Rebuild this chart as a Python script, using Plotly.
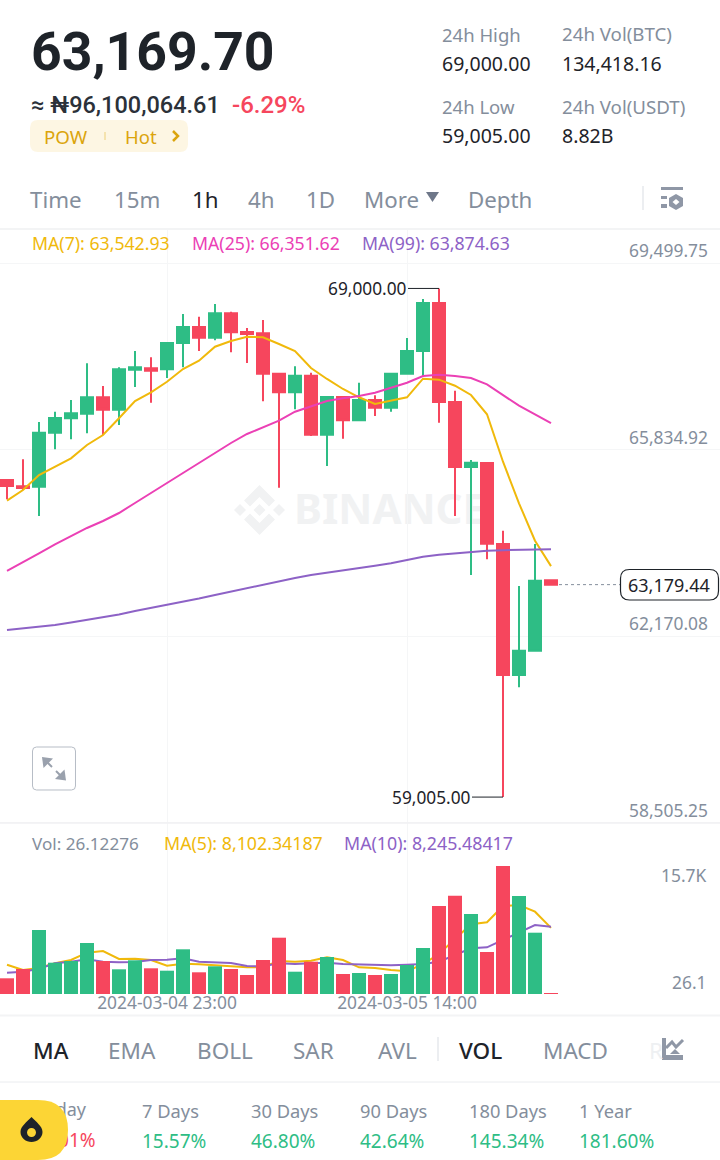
import re
import pandas as pd
import plotly.graph_objects as go

W = 720
H = 1160
FONT = "Noto Sans"

GREEN = "#2EBD85"
RED = "#F6465D"
YELLOW = "#F0B90B"
PINK = "#EB40B5"
PURPLE = "#8D62C6"
DARK = "#1E2329"
GREY = "#848E9C"
LINE = "#EFF0F2"

# candles, one per hour
times = pd.date_range("2024-03-04 13:00", periods=35, freq="h")
opens = [65236, 65112, 65104, 66165, 66448, 66539, 66861, 66617, 67403, 67431, 67411, 67928,
         68242, 68032, 68512, 68144, 68119, 67325, 66959, 67285, 66126, 66867, 66409, 66808,
         66657, 67325, 67771, 68714, 66769, 65491, 65570, 63978, 61404, 61882, 63265]
highs = [65256, 65643, 66376, 66578, 66808, 67529, 67083, 67451, 67771, 67647, 67928, 68498,
         68445, 68694, 68543, 68223, 68380, 67325, 67470, 67344, 66887, 66887, 67148, 66900,
         67325, 68026, 68793, 69000, 66991, 65629, 65570, 64240, 63153, 63978, 63265]
lows = [64857, 65039, 64529, 65839, 66036, 66154, 66120, 66317, 67063, 66755, 67240, 67451,
        67771, 67981, 67745, 67535, 66782, 65085, 66625, 66101, 65511, 66047, 66409, 66494,
        66578, 67305, 67266, 66362, 64529, 63369, 63678, 59005, 61162, 61862, 63159]
closes = [65118, 65079, 66165, 66454, 66547, 66861, 66617, 67411, 67451, 67384, 67928, 68242,
          68032, 68512, 68138, 68105, 67325, 66959, 67285, 66126, 66867, 66409, 66808, 66657,
          67325, 67771, 68714, 66769, 65491, 65576, 63984, 61404, 61882, 63257, 63179.44]

ma7 = [64829, 65039, 65334, 65497, 65662, 65924, 66120, 66448, 66788, 66959, 67167, 67417,
       67580, 67855, 67967, 68052, 68040, 67908, 67771, 67437, 67221, 67024, 66861, 66729,
       66788, 66861, 67226, 67207, 67089, 66906, 66527, 65595, 64778, 64043, 63542.93]
ma25 = [63448, 63615, 63792, 63969, 64136, 64293, 64430, 64587, 64784, 64980, 65177, 65373,
        65570, 65772, 65963, 66140, 66277, 66401, 66578, 66690, 66788, 66841, 66887, 66951,
        67044, 67148, 67280, 67305, 67280, 67240, 67116, 66906, 66696, 66527, 66351.62]
ma99 = [62288, 62318, 62347, 62387, 62436, 62485, 62534, 62593, 62662, 62721, 62780, 62839,
        62907, 62976, 63045, 63114, 63183, 63251, 63310, 63369, 63418, 63467, 63507, 63552,
        63599, 63664, 63729, 63768, 63796, 63821, 63847, 63857, 63860, 63868, 63874.63]

volumes = [1925, 3065, 7846, 3837, 4046, 6253, 4046, 3028, 4132, 3151, 2857, 5480,
           2660, 3396, 3065, 2329, 4168, 6902, 2734, 3960, 4536, 2452, 2575, 2329,
           2452, 3555, 5640, 10789, 12052, 9808, 5149, 15693, 12015, 7515, 26.12]
vol_ma5 = [3592, 2942, 3188, 3764, 4168, 5063, 5272, 4291, 4328, 4168, 3470, 3715,
           3641, 3519, 3470, 3273, 3310, 4046, 3960, 4083, 4499, 4168, 3273, 3188,
           2942, 2783, 3678, 4904, 6743, 8545, 8790, 10789, 10911, 10090, 8102.34]
vol_ma10 = [2611, 2734, 3102, 3764, 3960, 4254, 3960, 3886, 3923, 4168, 4205, 4377,
            3960, 3923, 3801, 3433, 3396, 3764, 3678, 3764, 3837, 3678, 3641, 3555,
            3519, 3592, 3678, 3960, 4781, 5603, 5725, 6620, 7564, 8459, 8245.48]

price_ticks = [69499.75, 65834.92, 62170.08, 58505.25]
time_ticks = ["2024-03-04 23:00", "2024-03-05 14:00"]
last_price = 63179.44

periods = ["Today", "7 Days", "30 Days", "90 Days", "180 Days", "1 Year"]
period_changes = ["-6.01%", "15.57%", "46.80%", "42.64%", "145.34%", "181.60%"]


def px(x, y):
    return x / W, 1 - y / H


def svg(path):
    # path is written in screen pixels, shapes want paper coordinates
    nums = iter(re.findall(r"[A-Z]|[-\d.]+", path))
    out = []
    for tok in nums:
        if tok.isalpha():
            out.append(tok)
        else:
            x, y = px(float(tok), float(next(nums)))
            out.append(f"{x:.5f},{y:.5f}")
    return " ".join(out)


def round_rect(x0, y0, x1, y1, r):
    return svg(f"M {x0 + r} {y0} L {x1 - r} {y0} Q {x1} {y0} {x1} {y0 + r} L {x1} {y1 - r} "
               f"Q {x1} {y1} {x1 - r} {y1} L {x0 + r} {y1} Q {x0} {y1} {x0} {y1 - r} "
               f"L {x0} {y0 + r} Q {x0} {y0} {x0 + r} {y0} Z")


shapes = []
annotations = []


def text(s, x, y, size, color=GREY, anchor="left", weight=400, font=FONT):
    # glyphs start about a pixel in from the anchor
    ax, ay = px(x - 1, y)
    annotations.append(dict(text=s, x=ax, y=ay, xref="paper", yref="paper", xanchor=anchor,
                            yanchor="middle", showarrow=False, borderpad=0,
                            font=dict(family=font, size=size, color=color, weight=weight)))


def path(d, fill, line=None, width=0, layer="above"):
    shapes.append(dict(type="path", path=d, xref="paper", yref="paper", fillcolor=fill,
                       line=dict(color=line or fill, width=width), layer=layer))


def seg(x0, y0, x1, y1, color=LINE, width=1):
    a, b = px(x0, y0)
    c, d = px(x1, y1)
    shapes.append(dict(type="line", x0=a, y0=b, x1=c, y1=d, xref="paper", yref="paper",
                       line=dict(color=color, width=width), layer="above"))


def under_text(s, x, y, size, color, weight=400):
    # text in a shape label, so it sits below the traces and other shapes
    a, b = px(x, y - 15)
    c, d = px(x + 260, y + 15)
    shapes.append(dict(type="rect", x0=a, y0=b, x1=c, y1=d, xref="paper", yref="paper",
                       fillcolor="rgba(0,0,0,0)", line=dict(width=0), layer="below",
                       label=dict(text=s, textposition="middle left", padding=0,
                                  font=dict(family=FONT, size=size, color=color, weight=weight))))


# header
text("63,169.70", 31, 51, 53.5, DARK, weight=700, font="Roboto")
text("≈ ₦96,100,064.61", 31, 105, 23.5, "#2B3139", weight=500, font="Roboto")
text("-6.29%", 232, 105, 24, RED, weight=500, font="Roboto")
path(round_rect(30, 120, 188, 152, 8), "#FDF6E3")
text("POW", 44, 136, 18.7, "#DBA40C")
seg(105, 132, 105, 140, "#F5E3AE", 2)
text("Hot", 125, 136, 18.5, "#DBA40C")
path(svg("M 173 131 L 178 136 L 173 141"), "rgba(0,0,0,0)", "#DBA40C", 2.5)

text("24h High", 442, 35, 18.5)
text("69,000.00", 442, 63, 19.5, DARK)
text("24h Vol(BTC)", 562, 33, 18.7)
text("134,418.16", 562, 63, 19.5, DARK)
text("24h Low", 442, 107, 18.5)
text("59,005.00", 442, 135, 19.5, DARK)
text("24h Vol(USDT)", 562, 107, 18.7)
text("8.82B", 562, 135, 19.5, DARK)

# interval tabs
for label, x, color in [("Time", 30, GREY), ("15m", 114, GREY), ("1h", 192, DARK), ("4h", 248, GREY),
                        ("1D", 306, GREY), ("More", 364, GREY), ("Depth", 468, GREY)]:
    text(label, x, 199, 22.3, color)
path(svg("M 426 192 L 439 192 L 432.5 202 Z"), "#6E7789")
seg(643, 186, 643, 210, "#E6E8EC", 1.5)
path(svg("M 661 187 L 683 187 L 683 190 L 661 190 Z"), "#8F97A6")
path(svg("M 661 196 L 667 196 L 667 199 L 661 199 Z"), "#8F97A6")
path(svg("M 661 204 L 667 204 L 667 208 L 661 208 Z"), "#8F97A6")
path(svg("M 676 194 L 683 198 L 683 206 L 676 210 L 669 206 L 669 198 Z"), "#8F97A6")
path(svg("M 676 199 L 679.5 202 L 676 205 L 672.5 202 Z"), "#FFFFFF")

# indicator values
text("MA(7): 63,542.93", 32, 243, 17.7, YELLOW)
text("MA(25): 66,351.62", 192, 243, 17.7, PINK)
text("MA(99): 63,874.63", 362, 243, 17.7, PURPLE)
text("Vol: 26.12276", 32, 843, 17.1)
text("MA(5): 8,102.34187", 164, 843, 17.8, YELLOW)
text("MA(10): 8,245.48417", 344, 843, 17.8, PURPLE)

# separators
seg(0, 229, W, 229, "#F3F4F5", 2)
seg(0, 823, W, 823, "#F0F1F3", 1.5)
seg(0, 1015.5, W, 1015.5, "#F3F4F5", 2)
seg(0, 1082, W, 1082, "#EAECEF", 1)

# watermark, under the candles
wm = "#F1F2F3"
path(svg("M 259.5 485 L 275 500.5 L 269 506.5 L 259.5 497 L 250 506.5 L 244 500.5 Z"), wm, layer="below")
path(svg("M 259.5 535 L 275 519.5 L 269 513.5 L 259.5 523 L 250 513.5 L 244 519.5 Z"), wm, layer="below")
path(svg("M 259.5 504 L 265.5 510 L 259.5 516 L 253.5 510 Z"), wm, layer="below")
path(svg("M 240 504 L 246 510 L 240 516 L 234 510 Z"), wm, layer="below")
path(svg("M 279 504 L 285 510 L 279 516 L 273 510 Z"), wm, layer="below")
under_text("BINANCE", 291, 510, 42, wm, weight=700)

# expand button
path(round_rect(32.5, 747, 75.5, 790, 4), "#FFFFFF", "#B7BDC6", 1)
path(svg("M 42 757 L 53 758.5 L 43.5 768 Z"), "#9AA1AD")
path(svg("M 66 780.5 L 55 779 L 64.5 769.5 Z"), "#9AA1AD")
seg(47, 762, 52, 767, "#9AA1AD", 2)
seg(56, 771, 61, 776, "#9AA1AD", 2)

# price axis labels sit just above their grid lines
for v in price_ticks:
    annotations.append(dict(text=f"{v:,.2f}", x=709 / W, xref="paper", y=v, yref="y", yshift=13,
                            xanchor="right", yanchor="middle", showarrow=False, borderpad=0,
                            font=dict(family=FONT, size=17.4, color=GREY)))
annotations.append(dict(text="15.7K", x=708 / W, xref="paper", y=max(volumes), yref="y2", yshift=-9,
                        xanchor="right", yanchor="middle", showarrow=False, borderpad=0,
                        font=dict(family=FONT, size=17.4, color=GREY)))
annotations.append(dict(text="26.1", x=708 / W, xref="paper", y=0, yref="y2", yshift=12,
                        xanchor="right", yanchor="middle", showarrow=False, borderpad=0,
                        font=dict(family=FONT, size=17.4, color=GREY)))

# high and low markers
for price, i in [(max(highs), highs.index(max(highs))), (min(lows), lows.index(min(lows)))]:
    annotations.append(dict(text=f"{price:,.2f}", x=times[i], y=price, xref="x", yref="y",
                            ax=-31, ay=0, axref="pixel", ayref="pixel", xanchor="right", yanchor="middle",
                            showarrow=True, arrowhead=0, arrowwidth=1, arrowcolor=DARK, standoff=0,
                            startstandoff=0, borderpad=0,
                            font=dict(family=FONT, size=17.3, color=DARK)))

# last price
shapes.append(dict(type="line", x0=times[-1] + pd.Timedelta(minutes=30),
                   x1=times[0] + (620 - 7) / 16 * pd.Timedelta(hours=1), xref="x",
                   y0=last_price, y1=last_price, yref="y", line=dict(color="#848E9C", width=1, dash="3px,3px")))
path(round_rect(620.5, 569.5, 718.5, 600, 9), "#FFFFFF", DARK, 1.2)
annotations.append(dict(text=f"{last_price:,.2f}", x=669 / W, xref="paper", y=last_price, yref="y",
                        xanchor="center", yanchor="middle", showarrow=False, borderpad=0,
                        font=dict(family=FONT, size=18, color=DARK)))

# indicator tabs
for label, x, color, weight in [("MA", 33, DARK, 500), ("EMA", 108, GREY, 400), ("BOLL", 197, GREY, 400),
                                ("SAR", 293, GREY, 400), ("AVL", 378, GREY, 400), ("VOL", 459, DARK, 500),
                                ("MACD", 543, GREY, 400), ("R", 649, "#EEF0F2", 400)]:
    text(label, x, 1050, 22.5, color, weight=weight)
seg(438, 1037, 438, 1061, "#E6E8EC", 1.5)
path(svg("M 662 1038 L 666 1038 L 666 1055 L 683 1055 L 683 1060 L 662 1060 Z"), "#8F97A6")
path(svg("M 666 1048 L 672 1042 L 676 1047 L 683 1040"), "rgba(0,0,0,0)", "#8F97A6", 3)
path(svg("M 670 1054 L 675 1049 L 680 1054 Z"), "#8F97A6")

# period changes, the first column runs under the floating button
under_text(periods[0], 33, 1110, 18, GREY)
under_text(period_changes[0], 33, 1141, 19, RED)
for label, change, x in zip(periods[1:], period_changes[1:], [142, 251, 360, 469, 579]):
    text(label, x, 1110, 18.3)
    text(change, x, 1141, 19, GREEN)
path(svg("M 0 1100 L 38 1100 Q 68 1100 68 1130 Q 68 1160 38 1160 L 0 1160 Z"), "#FCD535", layer="below")
path(svg("M 31.5 1117 C 36 1122 42.5 1126 42.5 1132 C 42.5 1138 37 1142 31.5 1142 "
         "C 26 1142 20.5 1138 20.5 1132 C 20.5 1126 27 1122 31.5 1117 Z"), DARK)
path(svg("M 31.5 1128 C 34 1128 36 1130 36 1132.5 C 36 1135 34 1137 31.5 1137 "
         "C 29 1137 27 1135 27 1132.5 C 27 1130 29 1128 31.5 1128 Z"), "#FCD535")

fig = go.Figure()

fig.add_trace(go.Candlestick(
    x=times, open=opens, high=highs, low=lows, close=closes, xaxis="x", yaxis="y",
    whiskerwidth=0,
    increasing=dict(line=dict(color=GREEN, width=2), fillcolor=GREEN),
    decreasing=dict(line=dict(color=RED, width=2), fillcolor=RED),
))
for values, color in [(ma7, YELLOW), (ma25, PINK), (ma99, PURPLE)]:
    fig.add_trace(go.Scatter(x=times, y=values, mode="lines", xaxis="x", yaxis="y",
                             line=dict(color=color, width=2)))

# lines go on the lower axis, bars on the overlay, the bars cover the lines
for values, color in [(vol_ma5, YELLOW), (vol_ma10, PURPLE)]:
    fig.add_trace(go.Scatter(x=times, y=values, mode="lines", xaxis="x", yaxis="y2",
                             line=dict(color=color, width=2)))
bar_colors = [GREEN if c >= o else RED for o, c in zip(opens, closes)]
fig.add_trace(go.Bar(x=times, y=volumes, xaxis="x", yaxis="y3", marker=dict(color=bar_colors, line_width=0),
                     width=3150000))

hour = pd.Timedelta(hours=1)
vol_range = [0, 20842]

fig.update_layout(
    width=W, height=H, autosize=False,
    margin=dict(l=0, r=0, t=0, b=0),
    paper_bgcolor="white", plot_bgcolor="rgba(0,0,0,0)",
    showlegend=False,
    boxgap=0.25, boxgroupgap=0,
    font=dict(family=FONT),
    shapes=shapes, annotations=annotations,
    xaxis=dict(domain=[0, 1], anchor="y2", range=[times[0] - 0.4375 * hour, times[0] + 44.5625 * hour],
               rangeslider=dict(visible=False), tickvals=time_ticks, tickformat="%Y-%m-%d %H:%M",
               tickfont=dict(family=FONT, size=17.4, color=GREY), ticks="", ticklabelstandoff=-3,
               showgrid=True, gridcolor="#F5F6F7", zeroline=False, showline=False),
    yaxis=dict(domain=[1 - 824 / H, 1 - 229 / H], range=[58476, 70168], tickvals=price_ticks,
               showticklabels=False, showgrid=True, gridcolor="#F5F6F7", zeroline=False, anchor="x"),
    yaxis2=dict(domain=[1 - 994 / H, 1 - 824 / H], range=vol_range, showticklabels=False, showgrid=False,
                zeroline=False, anchor="x"),
    yaxis3=dict(overlaying="y2", range=vol_range, showticklabels=False, showgrid=False, zeroline=False,
                anchor="x", side="right"),
)

# the browser's default body margin would push the 720px figure off the page
fig.write_html("out.html", config={"displayModeBar": False}, post_script="document.body.style.margin = '0';")
